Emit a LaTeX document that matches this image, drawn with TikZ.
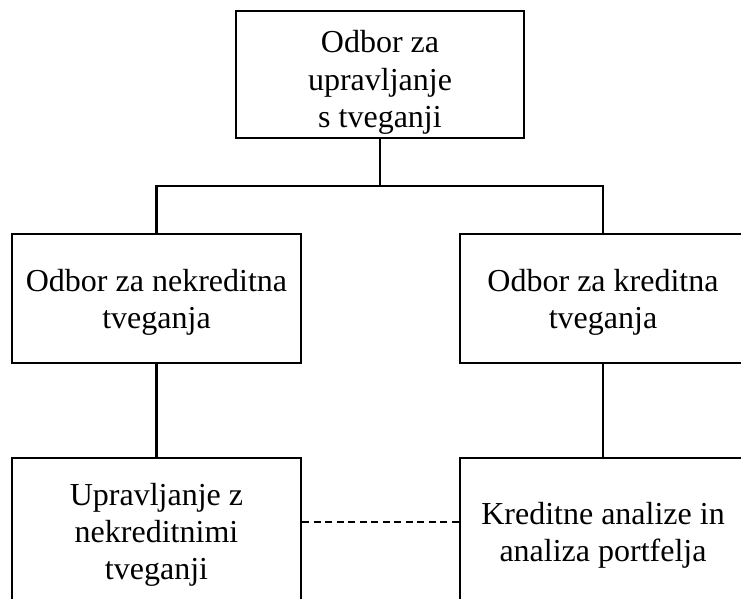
\documentclass[tikz,border=0pt]{standalone}
\usepackage{fontspec}
\setmainfont{Liberation Serif}
\begin{document}
\begin{tikzpicture}[x=1pt,y=-1pt,
  box/.style={draw, line width=2.1pt, rectangle, inner sep=0pt},
  lbl/.style={align=center, inner sep=0pt, font=\fontsize{32}{37.3}\selectfont},
  link/.style={line width=2.1pt},
  dashlink/.style={line width=2.1pt, dash pattern=on 7pt off 4.5pt}]
\useasboundingbox (0,0) rectangle (741,599);
\clip (0,0) rectangle (741,599);
\fill[white] (0,0) rectangle (741,599);

% committee boxes
\node[box, minimum width=288pt, minimum height=127pt] (top) at (380,74.5) {};
\node[box, minimum width=289pt, minimum height=129pt] (nonc) at (156.5,298.5) {};
\node[box, minimum width=286pt, minimum height=129pt] (cred) at (603,298.5) {};
\node[box, minimum width=289pt, minimum height=154pt] (nman) at (156.5,535) {};
\node[box, minimum width=286pt, minimum height=154pt] (cana) at (603,535) {};

% box texts
\node[lbl] (topT) at ([yshift=-8pt]top.center) {Odbor za\\upravljanje\\s tveganji};
\node[lbl] (noncT) at ([yshift=-3.5pt]nonc.center) {Odbor za nekreditna\\tveganja};
\node[lbl] (credT) at ([yshift=-3.5pt]cred.center) {Odbor za kreditna\\tveganja};
\node[lbl] (nmanT) at (nman.center) {Upravljanje z\\nekreditnimi\\tveganji};
\node[lbl] (canaT) at (cana.center) {Kreditne analize in\\analiza portfelja};

% connectors
\coordinate (bus) at (380,186);
\draw[link] (top.south) -- (bus);
\draw[link] (nonc.north) |- (bus) -| (cred.north);
\draw[link] (nonc.south) -- (nman.north);
\draw[link] (cred.south) -- (cana.north);
\draw[dashlink] ([yshift=13pt]nman.east) -- ([yshift=13pt]cana.west);
\end{tikzpicture}
\end{document}
